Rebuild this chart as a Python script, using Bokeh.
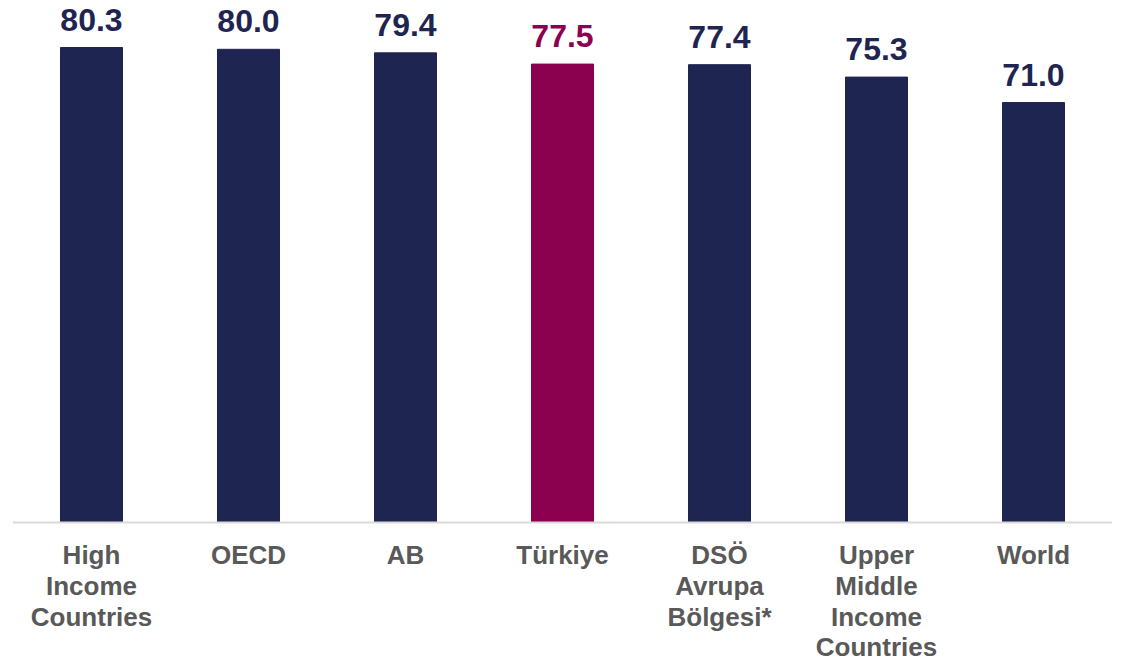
from bokeh.plotting import figure
from bokeh.models import ColumnDataSource, Range1d
from bokeh.core.properties import value
from bokeh.embed import file_html
from bokeh.resources import INLINE

categories = ["High\nIncome\nCountries", "OECD", "AB", "Türkiye",
              "DSÖ\nAvrupa\nBölgesi*", "Upper\nMiddle\nIncome\nCountries", "World"]
values = [80.3, 80.0, 79.4, 77.5, 77.4, 75.3, 71.0]
highlight = "Türkiye"

NAVY = "#1F2551"
MAGENTA = "#8B004F"
GRAY = "#595959"
FONT = value("Liberation Sans")

xs = list(range(len(categories)))
colors = [MAGENTA if c == highlight else NAVY for c in categories]
labels = [f"{v:.1f}" for v in values]

src = ColumnDataSource(dict(x=xs, top=values, color=colors, label=labels, cat=categories,
                            zero=[0] * len(xs)))

p = figure(width=1125, height=661, output_backend="svg", toolbar_location=None,
           x_range=Range1d(-0.5796, 6.586), y_range=Range1d(-23.5, 88.25),
           min_border=0, min_border_left=0, min_border_right=0,
           min_border_top=0, min_border_bottom=0)
p.axis.visible = False
p.grid.visible = False
p.outline_line_color = None
p.background_fill_color = "white"
p.border_fill_color = "white"

p.vbar(x="x", top="top", bottom=0, width=0.395, color="color", source=src)

p.segment(x0=-0.5, x1=6.5, y0=0, y1=0, line_color="#D9D9D9", line_width=2)

p.text(x="x", y="top", text="label", source=src, text_color="color",
       text_font=FONT, text_font_style="bold", text_font_size="32px",
       text_align="center", text_baseline="alphabetic", y_offset=-28)

p.text(x="x", y="zero", text="cat", source=src, text_color=GRAY,
       text_font=FONT, text_font_style="bold", text_font_size="26px",
       text_align="center", text_baseline="top", y_offset=18, text_line_height=1.02)

open("out.html", "w").write(file_html(p, INLINE))
